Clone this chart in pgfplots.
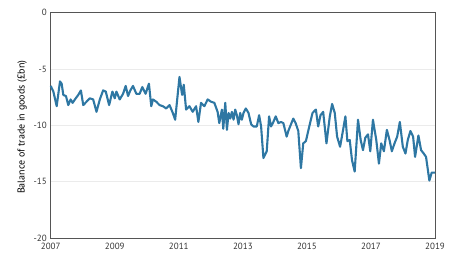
\documentclass[border=0pt]{standalone}
\usepackage{fontspec}
\setmainfont{PT Sans}
\usepackage{pgfplots}
\pgfplotsset{compat=1.18}
\definecolor{lineblue}{HTML}{2E77A3}
\definecolor{gridgray}{HTML}{EBEBEB}
\definecolor{axisgray}{HTML}{555555}
\definecolor{textgray}{HTML}{333333}
\begin{document}
\begin{tikzpicture}[x=1pt,y=1pt]
\useasboundingbox (0,0) rectangle (452,273);
\begin{axis}[
  at={(50.7pt,35pt)}, anchor=south west,
  scale only axis, width=384.3pt, height=225.3pt,
  xmin=2007, xmax=2019, ymin=-20, ymax=0,
  xtick={2007,2009,2011,2013,2015,2017,2019},
  xticklabels={2007,2009,2011,2013,2015,2017,2019},
  ytick={-20,-15,-10,-5,0},
  yticklabels={-20,-15,-10,-5,0},
  major tick length=0pt,
  ymajorgrids, grid style={gridgray, line width=0.8pt},
  axis line style={axisgray, line width=0.8pt},
  tick label style={font=\fontsize{9}{10}\selectfont, text=textgray},
  xticklabel style={yshift=-1.5pt},
  yticklabel style={xshift=-0.5pt},
  ylabel={Balance of trade in goods (£bn)},
  ylabel style={font=\fontsize{9}{10}\selectfont, text=textgray},
  every axis y label/.style={at={(ticklabel cs:0.5)}, rotate=90, anchor=near ticklabel, xshift=-2pt},
  clip=false,
]
\addplot[lineblue, line width=2.1pt, line join=round] coordinates {
(2007.000,-6.5) (2007.083,-7.0) (2007.187,-8.3) (2007.290,-6.1) (2007.342,-6.3)
(2007.394,-7.3) (2007.477,-7.4) (2007.549,-8.2) (2007.622,-7.7) (2007.684,-8.0)
(2007.756,-7.7) (2007.860,-7.3) (2007.943,-6.9) (2008.016,-8.2) (2008.119,-7.9)
(2008.223,-7.6) (2008.326,-7.7) (2008.430,-8.8) (2008.534,-7.7) (2008.637,-6.9)
(2008.720,-7.0) (2008.824,-8.2) (2008.927,-7.0) (2009.000,-7.6) (2009.052,-7.0)
(2009.155,-7.7) (2009.259,-7.2) (2009.342,-6.5) (2009.415,-7.4) (2009.487,-6.9)
(2009.570,-6.5) (2009.674,-7.2) (2009.777,-7.2) (2009.860,-6.6) (2009.964,-7.2)
(2010.067,-6.3) (2010.140,-8.3) (2010.192,-7.7) (2010.295,-7.9) (2010.399,-8.2)
(2010.503,-8.3) (2010.606,-8.5) (2010.710,-8.2) (2010.813,-8.9) (2010.886,-9.5)
(2011.021,-5.7) (2011.104,-7.3) (2011.155,-6.4) (2011.228,-8.6) (2011.332,-8.3)
(2011.435,-8.8) (2011.539,-8.3) (2011.611,-9.7) (2011.694,-8.0) (2011.798,-8.3)
(2011.902,-7.7) (2012.005,-7.9) (2012.109,-8.0) (2012.212,-8.8) (2012.264,-9.8)
(2012.347,-8.6) (2012.389,-10.3) (2012.451,-8.0) (2012.503,-10.4) (2012.554,-8.9)
(2012.606,-9.4) (2012.658,-8.8) (2012.710,-9.5) (2012.762,-8.6) (2012.813,-9.1)
(2012.865,-9.9) (2012.917,-8.9) (2012.969,-9.5) (2013.021,-8.9) (2013.093,-8.5)
(2013.176,-8.9) (2013.259,-9.9) (2013.332,-10.1) (2013.435,-10.1) (2013.508,-9.1)
(2013.570,-10.1) (2013.642,-12.9) (2013.746,-12.3) (2013.819,-9.2) (2013.881,-10.1)
(2013.953,-9.7) (2014.026,-9.2) (2014.109,-9.8) (2014.192,-9.7) (2014.264,-9.8)
(2014.368,-11.0) (2014.420,-10.5) (2014.503,-9.9) (2014.575,-9.4) (2014.648,-9.8)
(2014.731,-10.5) (2014.813,-13.8) (2014.886,-11.6) (2014.969,-11.4) (2015.041,-10.5)
(2015.124,-9.5) (2015.176,-8.9) (2015.280,-8.6) (2015.352,-10.1) (2015.425,-9.1)
(2015.508,-8.8) (2015.611,-11.6) (2015.715,-9.2) (2015.788,-8.1) (2015.870,-8.9)
(2015.943,-11.0) (2016.036,-11.9) (2016.130,-10.4) (2016.202,-9.2) (2016.264,-11.4)
(2016.337,-11.3) (2016.409,-13.1) (2016.492,-14.1) (2016.596,-9.5) (2016.679,-11.3)
(2016.751,-12.2) (2016.824,-11.1) (2016.907,-10.8) (2016.979,-12.3) (2017.062,-9.5)
(2017.166,-11.3) (2017.249,-13.4) (2017.321,-11.6) (2017.404,-12.3) (2017.497,-10.4)
(2017.580,-11.3) (2017.653,-12.3) (2017.736,-11.6) (2017.819,-11.0) (2017.902,-9.7)
(2017.995,-11.9) (2018.078,-12.5) (2018.150,-11.3) (2018.233,-10.5) (2018.316,-11.0)
(2018.378,-12.8) (2018.482,-10.9) (2018.565,-12.2) (2018.648,-12.5) (2018.720,-12.8)
(2018.824,-14.9) (2018.896,-14.2) (2019.000,-14.2)
};
\end{axis}
\end{tikzpicture}
\end{document}
